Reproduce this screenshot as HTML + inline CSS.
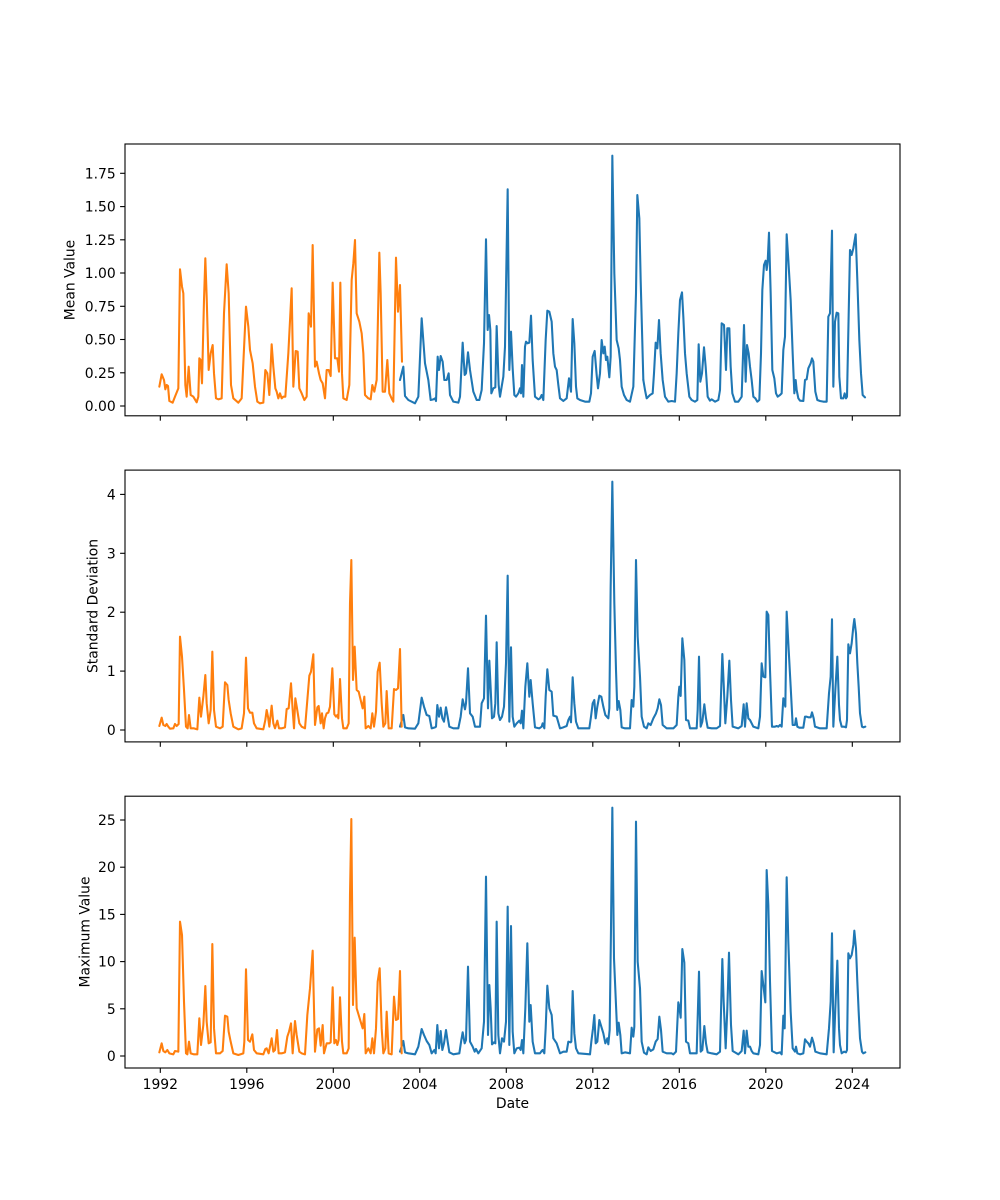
<!DOCTYPE html>
<html>
<head>
<meta charset="utf-8">
<style>
html,body{margin:0;padding:0;background:#fff;}
svg{display:block;}
text{font-family:"DejaVu Sans","Liberation Sans",sans-serif;font-size:13.9px;fill:#000;}
.b{fill:none;stroke:#1f77b4;stroke-width:2.08;stroke-linejoin:round;stroke-linecap:round;}
.o{fill:none;stroke:#ff7f0e;stroke-width:2.08;stroke-linejoin:round;stroke-linecap:round;}
.ax{fill:none;stroke:#000;stroke-width:1.1;}
.tk{stroke:#000;stroke-width:1.1;}
</style>
</head>
<body>
<svg width="1000" height="1200" viewBox="0 0 1000 1200" xmlns="http://www.w3.org/2000/svg">
<rect width="1000" height="1200" fill="#fff"/>
<defs>
<clipPath id="c1"><rect x="125" y="144" width="775" height="271.8"/></clipPath>
<clipPath id="c2"><rect x="125" y="470.1" width="775" height="271.8"/></clipPath>
<clipPath id="c3"><rect x="125" y="796.2" width="775" height="271.8"/></clipPath>
</defs>

<!-- ===== Panel 1 ===== -->
<g clip-path="url(#c1)">
<g transform="translate(400,140) scale(0.33333)">
<polyline class="b" vector-effect="non-scaling-stroke" points="0,720 10,680 15,768 25,780 45,790 55,770 65,535 75,670 85,720 92,780 100,778 105,775 108,783 113,650 117,690 122,648 128,665 133,720 140,720 146,700 150,765 160,785 175,788 180,770 188,608 194,705 198,700 204,637 210,690 220,755 230,780 238,780 245,750 252,610 258,298 263,570 267,525 271,570 274,760 280,745 286,742 290,558 296,735 300,770 305,740 310,710 315,620 323,148 328,690 333,575 338,685 343,765 348,770 355,760 360,745 363,760 366,675 370,770 375,620 378,605 383,610 388,608 393,527 398,660 405,770 415,778 420,775 425,765 430,780 437,600 442,512 448,515 455,545 460,640 465,680 470,690 475,735 480,775 490,783 500,775 507,715 513,755 518,537 523,610 528,740 532,775 540,780 555,785 568,785 573,760 578,650 584,633 590,705 594,745 600,700 605,600 610,640 614,620 618,660 622,650 628,712 632,650 637,47 643,400 650,600 656,625 660,660 665,740 672,765 680,780 690,785 700,740 708,460 712,165 718,235 722,420 730,720"/>
</g>
<g transform="translate(640,140) scale(0.33333)">
<polyline class="b" vector-effect="non-scaling-stroke" points="10,720 15,750 20,775 30,765 38,760 42,700 47,608 52,625 57,540 62,640 68,720 75,770 85,785 95,783 105,785 110,700 115,580 120,480 126,457 130,530 135,640 140,700 148,770 155,780 165,785 172,780 176,613 181,725 186,700 192,622 197,680 203,770 210,782 215,778 225,785 235,780 240,750 245,550 252,555 258,690 262,565 268,565 272,680 277,760 285,785 295,785 305,770 312,555 317,725 321,615 326,640 330,680 335,720 340,770 346,775 352,785 358,780 363,640 367,450 372,375 377,362 380,390 383,365 387,278 392,460 397,690 403,715 408,760 413,770 420,765 425,760 430,630 435,590 440,283 445,360 452,480 458,640 463,760 467,720 470,750 475,775 480,782 490,783 495,720 500,718 505,685 512,670 516,655 520,665 526,755 532,780 540,783 550,785 560,785 565,530 570,520 576,272 580,740 585,545 590,518 595,520 598,710 603,775 610,775 614,760 618,775 621,770 626,525 630,330 635,345 640,325 647,283 652,420 658,600 663,700 668,765 675,772"/>
</g>
<g transform="translate(120,140) scale(0.33333)">
<polyline class="o" vector-effect="non-scaling-stroke" points="118,740 125,703 132,720 136,748 140,735 144,738 148,783 158,788 165,770 175,745 180,388 186,440 190,460 196,735 200,770 206,680 212,765 220,770 230,787 235,770 238,655 242,660 246,730 252,480 256,355 260,470 266,690 272,640 278,615 282,700 288,775 295,778 305,775 312,520 320,373 326,460 333,735 340,775 355,788 365,775 378,500 385,560 390,630 398,670 405,740 412,785 420,790 430,788 436,690 442,700 448,765 455,613 460,680 466,745 470,755 475,775 480,760 485,775 490,770 496,770 505,640 515,445 520,740 527,633 533,635 538,745 545,760 553,780 560,770 566,520 573,560 578,315 585,680 590,665 597,700 602,720 608,730 615,775 620,690 626,690 632,708 638,428 645,655 652,655 657,695 661,428 666,700 670,775 680,780 688,735 695,420 700,370 705,300 710,520 718,545 725,580 730,640 735,765 745,775 752,778 757,735 763,755 770,720 778,338 782,460 788,755 795,755 802,660 808,760 816,778 820,785 828,353 834,515 840,435 846,665"/>
</g>
</g>
<rect class="ax" x="125" y="144" width="775" height="271.8"/>

<!-- ===== Panel 2 ===== -->
<g clip-path="url(#c2)">
<g transform="translate(400,470) scale(0.33333)">
<polyline class="b" vector-effect="non-scaling-stroke" points="0,770 10,735 15,772 25,775 45,776 55,760 65,683 72,710 80,735 88,738 95,775 105,772 108,770 112,705 117,740 122,713 127,745 132,755 138,712 143,740 148,770 160,775 175,775 182,740 188,688 195,718 198,700 204,595 210,730 218,740 225,770 232,770 240,770 245,700 252,685 258,437 264,715 268,572 272,655 276,745 282,740 286,700 290,517 295,730 300,750 306,740 312,710 318,580 323,317 328,755 333,532 338,740 343,770 350,760 358,752 362,760 366,722 370,775 376,650 382,580 388,680 392,630 398,700 405,772 418,775 425,770 428,760 433,775 437,680 442,598 448,660 455,665 460,737 470,740 480,775 490,772 500,768 505,750 510,740 513,757 518,622 523,700 528,755 535,775 555,775 568,775 573,740 578,700 583,690 587,745 592,710 598,677 604,680 610,710 616,735 625,745 628,715 632,350 637,35 643,400 648,600 652,720 656,693 661,720 665,772 675,775 690,775 695,690 700,710 703,650 708,270 713,500 720,620"/>
</g>
<g transform="translate(640,470) scale(0.33333)">
<polyline class="b" vector-effect="non-scaling-stroke" points="0,620 5,740 12,770 20,775 25,760 32,765 40,745 48,730 53,715 58,688 63,705 68,765 80,775 100,775 110,765 115,680 118,650 122,678 127,505 133,570 138,750 145,752 150,775 170,775 173,720 177,560 182,770 187,755 193,703 198,745 203,773 215,775 230,775 240,768 247,552 251,640 256,760 262,680 268,572 273,690 278,770 295,775 305,768 311,703 315,770 320,700 325,745 330,750 335,760 340,770 355,775 360,740 365,580 370,620 376,622 380,425 385,435 390,600 396,770 405,770 410,768 415,770 420,765 425,770 430,685 436,710 440,425 445,520 452,650 458,765 465,765 468,745 472,770 478,773 490,773 495,740 500,740 505,742 512,742 516,727 521,745 525,770 540,775 560,775 567,670 572,620 576,448 580,770 586,660 592,560 597,705 600,750 605,770 612,770 618,772 621,750 625,523 630,550 635,520 640,470 643,447 648,490 652,580 656,650 660,730 666,770 670,772 676,770"/>
</g>
<g transform="translate(120,470) scale(0.33333)">
<polyline class="o" vector-effect="non-scaling-stroke" points="118,768 125,743 130,765 136,768 140,762 145,770 150,776 160,775 165,762 170,768 176,762 180,500 186,560 192,660 198,770 203,775 207,735 212,775 222,775 232,778 238,683 243,740 250,680 256,615 260,700 266,760 272,720 277,545 282,720 288,770 300,775 308,770 315,637 322,645 326,690 332,730 340,770 355,778 365,775 372,730 378,563 384,715 390,728 397,728 402,760 410,775 430,778 436,750 440,720 444,740 448,770 455,707 460,760 465,775 472,752 477,775 485,775 495,772 500,717 506,715 513,640 518,720 522,775 526,685 531,715 538,760 545,770 555,775 562,690 568,617 573,605 580,553 585,765 592,712 596,708 602,760 606,730 611,775 615,745 620,730 625,728 630,710 637,595 643,733 648,740 652,735 655,745 660,627 666,745 670,775 680,775 686,760 690,400 694,270 699,630 704,530 710,660 716,665 722,690 728,715 733,680 737,775 745,768 752,775 757,730 762,770 768,725 773,605 779,578 785,700 790,770 796,760 800,663 806,775 815,775 822,657 828,660 834,655 840,537 845,770"/>
</g>
</g>
<rect class="ax" x="125" y="470.1" width="775" height="271.8"/>

<!-- ===== Panel 3 ===== -->
<g clip-path="url(#c3)">
<g transform="translate(400,795) scale(0.33333)">
<polyline class="b" vector-effect="non-scaling-stroke" points="0,770 10,738 15,772 25,775 45,778 55,755 65,702 72,720 80,738 88,750 95,775 103,765 107,775 112,690 117,760 122,708 127,765 132,745 138,705 143,740 148,772 160,778 178,775 184,735 188,712 194,745 198,735 204,515 210,740 218,755 224,770 228,762 235,775 245,760 252,680 258,245 264,720 268,570 272,640 276,748 282,742 286,745 290,380 295,720 300,775 306,730 312,740 318,680 323,335 328,750 333,393 338,710 343,775 350,760 358,758 362,765 366,735 370,775 376,640 382,445 388,680 392,630 398,740 405,775 420,775 425,768 428,765 433,775 437,700 442,572 448,640 455,660 460,730 470,745 480,775 490,770 500,770 505,740 512,742 514,740 518,588 523,715 528,760 535,775 570,778 574,740 579,700 583,660 587,745 592,740 598,675 604,695 610,715 616,745 622,730 625,748 629,705 633,400 637,38 642,490 648,630 652,720 656,683 661,720 665,775 675,772 690,775 695,698 700,725 703,695 708,80 713,500 720,580"/>
</g>
<g transform="translate(640,795) scale(0.33333)">
<polyline class="b" vector-effect="non-scaling-stroke" points="0,580 5,740 12,773 20,778 25,757 32,768 40,763 47,740 53,732 58,665 63,705 68,770 80,775 95,775 100,778 108,770 115,622 118,635 122,668 127,462 133,503 138,740 145,745 150,775 170,775 177,530 182,770 187,765 193,693 198,745 203,772 215,775 230,778 240,770 247,492 251,620 257,760 262,640 267,473 273,690 278,768 295,778 305,768 311,707 315,775 320,707 325,755 330,755 335,768 340,775 355,778 360,750 365,528 370,570 376,622 380,225 385,330 390,560 396,768 410,775 420,772 425,778 430,662 434,700 440,247 445,440 452,650 458,760 465,770 468,755 472,775 480,778 490,775 495,733 500,740 505,745 510,755 516,728 521,745 526,770 540,775 560,778 567,700 572,620 576,415 581,772 586,640 592,497 597,700 600,750 605,775 612,770 618,772 621,765 625,475 630,490 635,480 640,450 643,407 648,460 652,560 656,650 660,730 666,770 670,775 676,772"/>
</g>
<g transform="translate(120,795) scale(0.33333)">
<polyline class="o" vector-effect="non-scaling-stroke" points="118,772 125,745 130,768 136,772 142,765 148,775 160,778 165,768 175,770 180,380 186,420 192,620 198,775 202,778 207,740 212,775 222,778 232,778 238,670 243,750 250,690 256,573 260,680 266,745 272,742 277,447 282,700 288,775 300,775 308,768 315,662 322,665 326,710 332,740 340,775 355,780 370,775 373,740 378,523 384,735 390,740 397,718 402,765 410,775 430,778 436,762 440,760 446,775 455,730 460,770 465,765 471,705 476,775 485,775 495,772 502,725 507,710 513,685 518,775 525,678 530,720 538,770 545,775 555,778 562,660 570,580 578,467 585,770 592,703 597,700 602,752 608,690 612,775 620,745 628,745 632,742 638,577 643,745 648,735 652,750 656,735 660,607 666,740 670,775 680,775 686,760 690,300 694,72 699,630 704,428 710,640 716,660 722,680 728,700 733,657 737,775 745,760 752,775 757,730 762,775 768,700 773,560 779,520 785,700 790,775 796,760 800,650 806,775 815,778 822,605 828,675 834,672 840,528 845,775"/>
</g>
</g>
<rect class="ax" x="125" y="796.2" width="775" height="271.8"/>

<!-- ===== Y ticks panel 1 ===== -->
<g class="tk">
<line x1="120.1" y1="406" x2="125" y2="406"/>
<line x1="120.1" y1="372.8" x2="125" y2="372.8"/>
<line x1="120.1" y1="339.5" x2="125" y2="339.5"/>
<line x1="120.1" y1="306.3" x2="125" y2="306.3"/>
<line x1="120.1" y1="273" x2="125" y2="273"/>
<line x1="120.1" y1="239.8" x2="125" y2="239.8"/>
<line x1="120.1" y1="206.6" x2="125" y2="206.6"/>
<line x1="120.1" y1="173.3" x2="125" y2="173.3"/>
</g>
<g text-anchor="end">
<text x="115.7" y="411">0.00</text>
<text x="115.7" y="377.8">0.25</text>
<text x="115.7" y="344.5">0.50</text>
<text x="115.7" y="311.3">0.75</text>
<text x="115.7" y="278">1.00</text>
<text x="115.7" y="244.8">1.25</text>
<text x="115.7" y="211.6">1.50</text>
<text x="115.7" y="178.3">1.75</text>
</g>

<!-- ===== Y ticks panel 2 ===== -->
<g class="tk">
<line x1="120.1" y1="730" x2="125" y2="730"/>
<line x1="120.1" y1="671.1" x2="125" y2="671.1"/>
<line x1="120.1" y1="612.2" x2="125" y2="612.2"/>
<line x1="120.1" y1="553.3" x2="125" y2="553.3"/>
<line x1="120.1" y1="494.4" x2="125" y2="494.4"/>
</g>
<g text-anchor="end">
<text x="115.7" y="735">0</text>
<text x="115.7" y="676.1">1</text>
<text x="115.7" y="617.2">2</text>
<text x="115.7" y="558.3">3</text>
<text x="115.7" y="499.4">4</text>
</g>

<!-- ===== Y ticks panel 3 ===== -->
<g class="tk">
<line x1="120.1" y1="1056" x2="125" y2="1056"/>
<line x1="120.1" y1="1008.8" x2="125" y2="1008.8"/>
<line x1="120.1" y1="961.6" x2="125" y2="961.6"/>
<line x1="120.1" y1="914.4" x2="125" y2="914.4"/>
<line x1="120.1" y1="867.2" x2="125" y2="867.2"/>
<line x1="120.1" y1="820" x2="125" y2="820"/>
</g>
<g text-anchor="end">
<text x="115.7" y="1061">0</text>
<text x="115.7" y="1013.8">5</text>
<text x="115.7" y="966.6">10</text>
<text x="115.7" y="919.4">15</text>
<text x="115.7" y="872.2">20</text>
<text x="115.7" y="825">25</text>
</g>

<!-- ===== X ticks ===== -->
<g class="tk">
<line x1="160.3" y1="415.8" x2="160.3" y2="420.7"/><line x1="246.8" y1="415.8" x2="246.8" y2="420.7"/><line x1="333.3" y1="415.8" x2="333.3" y2="420.7"/><line x1="419.8" y1="415.8" x2="419.8" y2="420.7"/><line x1="506.3" y1="415.8" x2="506.3" y2="420.7"/><line x1="592.8" y1="415.8" x2="592.8" y2="420.7"/><line x1="679.3" y1="415.8" x2="679.3" y2="420.7"/><line x1="765.8" y1="415.8" x2="765.8" y2="420.7"/><line x1="852.3" y1="415.8" x2="852.3" y2="420.7"/>
<line x1="160.3" y1="741.9" x2="160.3" y2="746.8"/><line x1="246.8" y1="741.9" x2="246.8" y2="746.8"/><line x1="333.3" y1="741.9" x2="333.3" y2="746.8"/><line x1="419.8" y1="741.9" x2="419.8" y2="746.8"/><line x1="506.3" y1="741.9" x2="506.3" y2="746.8"/><line x1="592.8" y1="741.9" x2="592.8" y2="746.8"/><line x1="679.3" y1="741.9" x2="679.3" y2="746.8"/><line x1="765.8" y1="741.9" x2="765.8" y2="746.8"/><line x1="852.3" y1="741.9" x2="852.3" y2="746.8"/>
<line x1="160.3" y1="1068" x2="160.3" y2="1072.9"/><line x1="246.8" y1="1068" x2="246.8" y2="1072.9"/><line x1="333.3" y1="1068" x2="333.3" y2="1072.9"/><line x1="419.8" y1="1068" x2="419.8" y2="1072.9"/><line x1="506.3" y1="1068" x2="506.3" y2="1072.9"/><line x1="592.8" y1="1068" x2="592.8" y2="1072.9"/><line x1="679.3" y1="1068" x2="679.3" y2="1072.9"/><line x1="765.8" y1="1068" x2="765.8" y2="1072.9"/><line x1="852.3" y1="1068" x2="852.3" y2="1072.9"/>
</g>
<g text-anchor="middle">
<text x="160.3" y="1089">1992</text>
<text x="246.8" y="1089">1996</text>
<text x="333.3" y="1089">2000</text>
<text x="419.8" y="1089">2004</text>
<text x="506.3" y="1089">2008</text>
<text x="592.8" y="1089">2012</text>
<text x="679.3" y="1089">2016</text>
<text x="765.8" y="1089">2020</text>
<text x="852.3" y="1089">2024</text>
<text x="512.5" y="1108">Date</text>
<text x="74.3" y="280" transform="rotate(-90 74.3 280)">Mean Value</text>
<text x="97.5" y="606" transform="rotate(-90 97.5 606)">Standard Deviation</text>
<text x="89.3" y="932" transform="rotate(-90 89.3 932)">Maximum Value</text>
</g>
</svg>
</body>
</html>
